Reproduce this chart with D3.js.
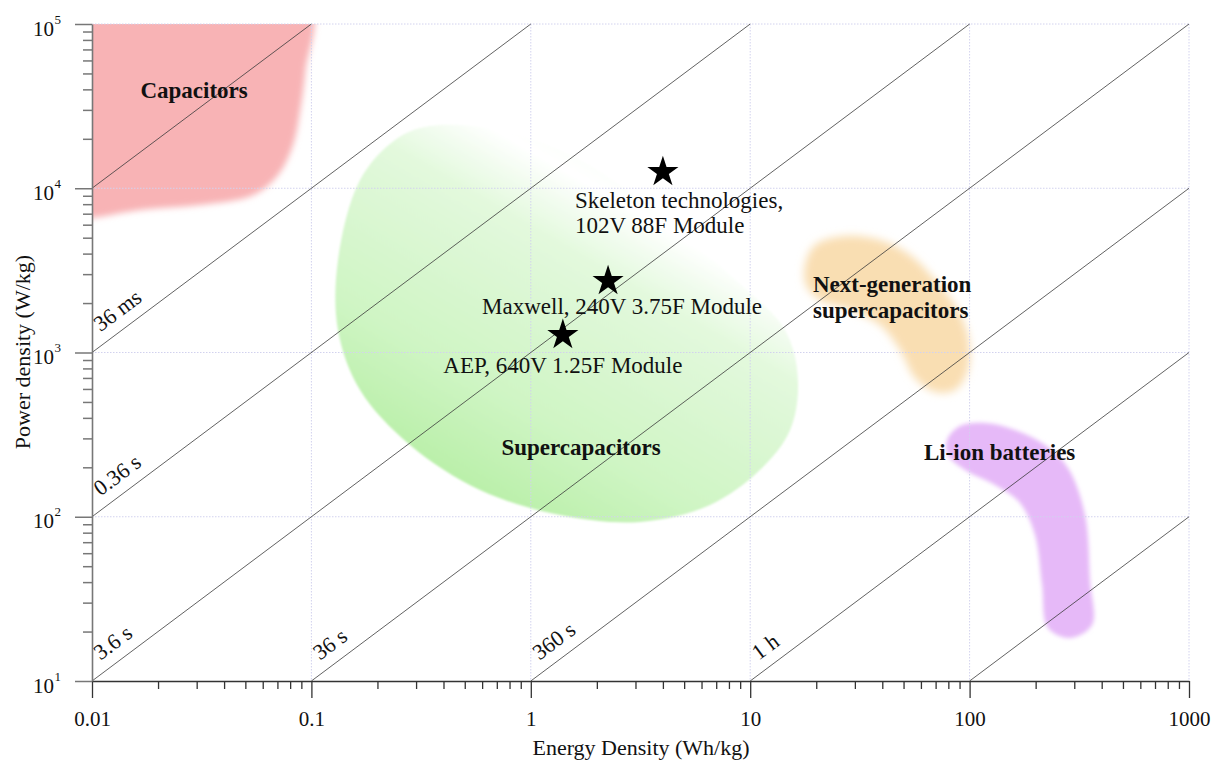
<!DOCTYPE html>
<html>
<head>
<meta charset="utf-8">
<script src="https://cdn.jsdelivr.net/npm/d3@7"></script>
<style>
  html, body { margin: 0; padding: 0; background: #fff; }
  svg { display: block; font-family: "Liberation Serif", "Times New Roman", serif; }
</style>
</head>
<body>
<svg id="chart" width="1223" height="762"></svg>
<script>
// ---------- data ----------
const xMajorTicks = [0.01, 0.1, 1, 10, 100, 1000];
const xMajorLabels = ["0.01", "0.1", "1", "10", "100", "1000"];
const yMajorTicks = [10, 100, 1000, 10000, 100000];
const yExponents = ["1", "2", "3", "4", "5"];

// constant discharge-time lines: start point (E, P) and label
const timeLineStartE = [0.01, 0.01, 0.01, 0.01, 0.1, 1, 10, 100];
const timeLineStartP = [10000, 1000, 100, 10, 10, 10, 10, 10];
const timeLineLabels = ["", "36 ms", "0.36 s", "3.6 s", "36 s", "360 s", "1 h", ""];

// device regions, outlines in (Energy Wh/kg, Power W/kg)
const capacitorsOutline = [
  [0.008, 130000], [0.098, 130000], [0.094, 52500], [0.089, 29960], [0.0825, 18340],
  [0.0705, 12040], [0.0545, 9100], [0.0311, 7907], [0.01655, 7373], [0.01, 6590], [0.008, 6500]
];
const supercapOutline = [
  [0.347, 23900], [0.724, 22600], [1.676, 14900], [3.88, 6870], [8.09, 2965], [14.4, 1371],
  [16.5, 680], [15.2, 337], [11.1, 193], [6.56, 118], [3.15, 93], [1.36, 102.5], [0.587, 145.5],
  [0.2815, 273.5], [0.1666, 591], [0.1322, 1371], [0.1322, 3657], [0.1666, 11230], [0.2405, 19680]
];
const nextGenOutline = [
  [17.77, 3410], [19.75, 4513], [27.05, 5121], [39.05, 4840], [53.5, 3923], [69.6, 2763],
  [85.8, 1946], [98.3, 1278], [98.3, 782], [85.8, 591], [69.6, 575], [56.4, 699], [48.2, 1036],
  [39.05, 1470], [28.5, 1815], [20.8, 2087], [17.96, 2576]
];
const liionOutline = [
  [78.9, 293.4], [90.4, 356.9], [117.5, 372.2], [161.0, 337.5], [220.6, 273.4], [280.9, 198.1],
  [335.7, 102.5], [353.7, 41.2], [361.3, 21.9], [286.8, 18.3], [227.7, 21.0], [213.8, 38.4],
  [198.7, 77.4], [169.7, 121.3], [130.6, 156.1], [95.3, 192.6], [79.7, 237.7]
];

// region labels: position (E, P)
const regionNames = [["Capacitors"], ["Supercapacitors"], ["Next-generation", "supercapacitors"], ["Li-ion batteries"]];
const regionLabelE = [0.0292, 1.694, 19.33, 137];
const regionLabelP = [35400, 237.7, 2335, 222];

// commercial modules (stars)
const moduleE = [4.0, 2.25, 1.40];
const moduleP = [12900, 2800, 1315];
const moduleLabels = [["Skeleton technologies,", "102V 88F Module"], ["Maxwell, 240V 3.75F Module"], ["AEP, 640V 1.25F Module"]];

// ---------- layout ----------
const svg = d3.select("#chart");
const L = 92, R = 1189, T = 24, B = 681;
const x = d3.scaleLog().domain([0.01, 1000]).range([L, R]);
const y = d3.scaleLog().domain([10, 100000]).range([B, T]);

const defs = svg.append("defs");
defs.append("clipPath").attr("id", "plotclip").append("rect")
  .attr("x", L).attr("y", T).attr("width", R - L).attr("height", B - T);
function blur(id, sd) {
  defs.append("filter").attr("id", id).attr("x", "-20%").attr("y", "-20%").attr("width", "140%").attr("height", "140%")
    .append("feGaussianBlur").attr("stdDeviation", sd);
}
blur("blur4", 4);
blur("blur3", 3);
blur("blur2", 2);
blur("blur1", 1.2);

const grad = defs.append("linearGradient").attr("id", "greenGrad")
  .attr("gradientUnits", "userSpaceOnUse")
  .attr("x1", 470).attr("y1", 530).attr("x2", 680).attr("y2", 170);
grad.append("stop").attr("offset", 0).attr("stop-color", "#b2ee9f");
grad.append("stop").attr("offset", 0.32).attr("stop-color", "#cff5c4");
grad.append("stop").attr("offset", 0.7).attr("stop-color", "#e3f9dd");
grad.append("stop").attr("offset", 0.86).attr("stop-color", "#ffffff");
grad.append("stop").attr("offset", 1).attr("stop-color", "#f8fdf6");

const blobLine = d3.line().x(d => x(d[0])).y(d => y(d[1])).curve(d3.curveCatmullRomClosed.alpha(0.5));

// ---------- regions ----------
const regions = svg.append("g").attr("clip-path", "url(#plotclip)");
regions.append("path").attr("d", blobLine(capacitorsOutline))
  .attr("fill", "#f8b3b5").attr("filter", "url(#blur3)");
regions.append("path").attr("d", blobLine(supercapOutline))
  .attr("fill", "url(#greenGrad)").attr("filter", "url(#blur1)");
regions.append("path").attr("d", blobLine(nextGenOutline))
  .attr("fill", "#f9deb2").attr("filter", "url(#blur4)");
regions.append("path").attr("d", blobLine(liionOutline))
  .attr("fill", "#e6b9f8").attr("filter", "url(#blur2)");

// ---------- grid ----------
const grid = svg.append("g");
grid.selectAll("line.gx").data(xMajorTicks.slice(1)).enter().append("line")
  .attr("x1", d => x(d)).attr("x2", d => x(d)).attr("y1", T).attr("y2", B)
  .attr("stroke", "#d2d2ee").attr("stroke-width", 1).attr("stroke-dasharray", "1.5,1.5");
grid.selectAll("line.gy").data(yMajorTicks.slice(1)).enter().append("line")
  .attr("y1", d => y(d)).attr("y2", d => y(d)).attr("x1", L).attr("x2", R)
  .attr("stroke", "#d2d2ee").attr("stroke-width", 1).attr("stroke-dasharray", "1.5,1.5");

// ---------- time lines ----------
const angle = -Math.atan((y(10) - y(100)) / (x(1) - x(0.1))) * 180 / Math.PI;
const tl = svg.append("g");
timeLineStartE.forEach((E0, i) => {
  const P0 = timeLineStartP[i];
  const t = E0 / P0;
  const E1 = Math.min(1000, 100000 * t);
  const P1 = E1 / t;
  tl.append("line")
    .attr("x1", x(E0)).attr("y1", y(P0)).attr("x2", x(E1)).attr("y2", y(P1))
    .attr("stroke", "#3a3a3a").attr("stroke-width", 0.8);
  if (timeLineLabels[i]) {
    tl.append("text")
      .attr("transform", `translate(${x(E0)},${y(P0)}) rotate(${angle}) translate(19,-11)`)
      .attr("font-size", 22).attr("fill", "#111")
      .text(timeLineLabels[i]);
  }
});

// ---------- axes ----------
const minorX = x.ticks().filter(v => !xMajorTicks.includes(v));
const minorY = y.ticks().filter(v => !yMajorTicks.includes(v));

const xAxisG = svg.append("g").attr("transform", `translate(0,${B})`);
xAxisG.call(d3.axisBottom(x).tickValues(minorX).tickSize(8).tickFormat("").tickSizeOuter(0));
xAxisG.call(g => g.select(".domain").remove());
const xMajG = svg.append("g").attr("transform", `translate(0,${B})`)
  .call(d3.axisBottom(x).tickValues(xMajorTicks).tickSize(17).tickSizeOuter(0)
    .tickFormat((d, i) => xMajorLabels[i]).tickPadding(13));
xMajG.select(".domain").attr("stroke", "#333").attr("stroke-width", 1.5);
xMajG.selectAll("text").attr("font-size", 21).attr("font-family", "Liberation Serif, serif").attr("fill", "#111");
svg.selectAll("g line").filter(function() { return this.parentNode.classList.contains("tick"); })
  .attr("stroke", "#333").attr("stroke-width", 1.3);

const yMinG = svg.append("g").attr("transform", `translate(${L},0)`)
  .call(d3.axisLeft(y).tickValues(minorY).tickSize(9).tickFormat("").tickSizeOuter(0));
yMinG.select(".domain").remove();
yMinG.selectAll("line").attr("stroke", "#777").attr("stroke-width", 1.5);
const yMajG = svg.append("g").attr("transform", `translate(${L},0)`)
  .call(d3.axisLeft(y).tickValues(yMajorTicks).tickSize(17).tickFormat("").tickSizeOuter(0));
yMajG.select(".domain").attr("stroke", "#777").attr("stroke-width", 1.6);
yMajG.selectAll("line").attr("stroke", "#777").attr("stroke-width", 1.5);
yMajG.selectAll(".tick").each(function(d, i) {
  const tx = d3.select(this).append("text").attr("fill", "#111").attr("x", -38).attr("y", 11)
    .attr("text-anchor", "end").attr("font-size", 21).attr("font-family", "Liberation Serif, serif");
  tx.append("tspan").text("10");
  tx.append("tspan").attr("x", -31).attr("dy", -12).attr("font-size", 13).text(yExponents[i]);
});

// axis titles
svg.append("text").attr("x", 641).attr("y", 755).attr("text-anchor", "middle")
  .attr("font-size", 22).attr("fill", "#111").text("Energy Density (Wh/kg)");
svg.append("text").attr("transform", `translate(30,352) rotate(-90)`).attr("text-anchor", "middle")
  .attr("font-size", 22).attr("fill", "#111").text("Power density (W/kg)");

// ---------- region labels ----------
regionNames.forEach((lines, i) => {
  const anchor = i === 2 ? "start" : "middle";
  const t = svg.append("text").attr("x", x(regionLabelE[i])).attr("y", y(regionLabelP[i]))
    .attr("text-anchor", anchor).attr("font-size", 23).attr("font-weight", "bold").attr("fill", "#111");
  lines.forEach((s, k) => t.append("tspan").attr("x", x(regionLabelE[i])).attr("dy", k ? 26 : 0).text(s));
});

// ---------- modules ----------
const star = d3.symbol().type(d3.symbolStar).size(300);
moduleE.forEach((E, i) => {
  svg.append("path").attr("d", star()).attr("transform", `translate(${x(E)},${y(moduleP[i]) + 2})`).attr("fill", "#000");
});
// label placement: offsets relative to star
const labelDX = [-88, 14, 0];
const labelDY = [38, 35, 40];
const labelAnchor = ["start", "middle", "middle"];
moduleLabels.forEach((lines, i) => {
  const px = x(moduleE[i]) + labelDX[i], py = y(moduleP[i]) + labelDY[i];
  const t = svg.append("text").attr("x", px).attr("y", py).attr("text-anchor", labelAnchor[i])
    .attr("font-size", 23).attr("fill", "#111");
  lines.forEach((s, k) => t.append("tspan").attr("x", px).attr("dy", k ? 25 : 0).text(s));
});
</script>
</body>
</html>
